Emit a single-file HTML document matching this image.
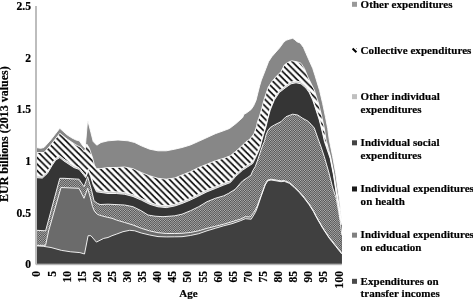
<!DOCTYPE html>
<html><head><meta charset="utf-8"><style>
html,body{margin:0;padding:0;background:#fff;}
body{width:473px;height:300px;overflow:hidden;position:relative;}
svg{position:absolute;left:0;top:0;will-change:transform;}
text{font-family:"Liberation Serif",serif;font-weight:bold;font-size:11px;fill:#000;stroke:#000;stroke-width:0.2px;}
</style></head><body>
<svg width="473" height="300" viewBox="0 0 473 300">
<defs>
<pattern id="stripes" patternUnits="userSpaceOnUse" width="6.5" height="6.5"><rect width="6.5" height="6.5" fill="#fff"/><line x1="-4.50" y1="-1" x2="4.00" y2="7.50" stroke="#000" stroke-width="1.6"/><line x1="2.00" y1="-1" x2="10.50" y2="7.50" stroke="#000" stroke-width="1.6"/><line x1="8.50" y1="-1" x2="17.00" y2="7.50" stroke="#000" stroke-width="1.6"/></pattern>
<pattern id="checker" patternUnits="userSpaceOnUse" width="10" height="10"><rect x="0" y="0" width="1" height="1" fill="#adadad"/><rect x="1" y="0" width="1" height="1" fill="#636363"/><rect x="2" y="0" width="1" height="1" fill="#8b8b8b"/><rect x="3" y="0" width="1" height="1" fill="#575757"/><rect x="4" y="0" width="1" height="1" fill="#b1b1b1"/><rect x="5" y="0" width="1" height="1" fill="#4f4f4f"/><rect x="6" y="0" width="1" height="1" fill="#999999"/><rect x="7" y="0" width="1" height="1" fill="#717171"/><rect x="8" y="0" width="1" height="1" fill="#a5a5a5"/><rect x="9" y="0" width="1" height="1" fill="#4b4b4b"/><rect x="0" y="1" width="1" height="1" fill="#575757"/><rect x="1" y="1" width="1" height="1" fill="#959595"/><rect x="2" y="1" width="1" height="1" fill="#727272"/><rect x="3" y="1" width="1" height="1" fill="#9e9e9e"/><rect x="4" y="1" width="1" height="1" fill="#535353"/><rect x="5" y="1" width="1" height="1" fill="#a5a5a5"/><rect x="6" y="1" width="1" height="1" fill="#676767"/><rect x="7" y="1" width="1" height="1" fill="#8a8a8a"/><rect x="8" y="1" width="1" height="1" fill="#5e5e5e"/><rect x="9" y="1" width="1" height="1" fill="#a9a9a9"/><rect x="0" y="2" width="1" height="1" fill="#919191"/><rect x="1" y="2" width="1" height="1" fill="#717171"/><rect x="2" y="2" width="1" height="1" fill="#868686"/><rect x="3" y="2" width="1" height="1" fill="#6e6e6e"/><rect x="4" y="2" width="1" height="1" fill="#929292"/><rect x="5" y="2" width="1" height="1" fill="#6b6b6b"/><rect x="6" y="2" width="1" height="1" fill="#8b8b8b"/><rect x="7" y="2" width="1" height="1" fill="#767676"/><rect x="8" y="2" width="1" height="1" fill="#8e8e8e"/><rect x="9" y="2" width="1" height="1" fill="#6a6a6a"/><rect x="0" y="3" width="1" height="1" fill="#6b6b6b"/><rect x="1" y="3" width="1" height="1" fill="#8b8b8b"/><rect x="2" y="3" width="1" height="1" fill="#767676"/><rect x="3" y="3" width="1" height="1" fill="#8e8e8e"/><rect x="4" y="3" width="1" height="1" fill="#6a6a6a"/><rect x="5" y="3" width="1" height="1" fill="#919191"/><rect x="6" y="3" width="1" height="1" fill="#717171"/><rect x="7" y="3" width="1" height="1" fill="#868686"/><rect x="8" y="3" width="1" height="1" fill="#6e6e6e"/><rect x="9" y="3" width="1" height="1" fill="#929292"/><rect x="0" y="4" width="1" height="1" fill="#a5a5a5"/><rect x="1" y="4" width="1" height="1" fill="#676767"/><rect x="2" y="4" width="1" height="1" fill="#8a8a8a"/><rect x="3" y="4" width="1" height="1" fill="#5e5e5e"/><rect x="4" y="4" width="1" height="1" fill="#a9a9a9"/><rect x="5" y="4" width="1" height="1" fill="#575757"/><rect x="6" y="4" width="1" height="1" fill="#959595"/><rect x="7" y="4" width="1" height="1" fill="#727272"/><rect x="8" y="4" width="1" height="1" fill="#9e9e9e"/><rect x="9" y="4" width="1" height="1" fill="#535353"/><rect x="0" y="5" width="1" height="1" fill="#4f4f4f"/><rect x="1" y="5" width="1" height="1" fill="#999999"/><rect x="2" y="5" width="1" height="1" fill="#717171"/><rect x="3" y="5" width="1" height="1" fill="#a5a5a5"/><rect x="4" y="5" width="1" height="1" fill="#4b4b4b"/><rect x="5" y="5" width="1" height="1" fill="#adadad"/><rect x="6" y="5" width="1" height="1" fill="#636363"/><rect x="7" y="5" width="1" height="1" fill="#8b8b8b"/><rect x="8" y="5" width="1" height="1" fill="#575757"/><rect x="9" y="5" width="1" height="1" fill="#b1b1b1"/><rect x="0" y="6" width="1" height="1" fill="#a5a5a5"/><rect x="1" y="6" width="1" height="1" fill="#676767"/><rect x="2" y="6" width="1" height="1" fill="#8a8a8a"/><rect x="3" y="6" width="1" height="1" fill="#5e5e5e"/><rect x="4" y="6" width="1" height="1" fill="#a9a9a9"/><rect x="5" y="6" width="1" height="1" fill="#575757"/><rect x="6" y="6" width="1" height="1" fill="#959595"/><rect x="7" y="6" width="1" height="1" fill="#727272"/><rect x="8" y="6" width="1" height="1" fill="#9e9e9e"/><rect x="9" y="6" width="1" height="1" fill="#535353"/><rect x="0" y="7" width="1" height="1" fill="#6b6b6b"/><rect x="1" y="7" width="1" height="1" fill="#8b8b8b"/><rect x="2" y="7" width="1" height="1" fill="#767676"/><rect x="3" y="7" width="1" height="1" fill="#8e8e8e"/><rect x="4" y="7" width="1" height="1" fill="#6a6a6a"/><rect x="5" y="7" width="1" height="1" fill="#919191"/><rect x="6" y="7" width="1" height="1" fill="#717171"/><rect x="7" y="7" width="1" height="1" fill="#868686"/><rect x="8" y="7" width="1" height="1" fill="#6e6e6e"/><rect x="9" y="7" width="1" height="1" fill="#929292"/><rect x="0" y="8" width="1" height="1" fill="#919191"/><rect x="1" y="8" width="1" height="1" fill="#717171"/><rect x="2" y="8" width="1" height="1" fill="#868686"/><rect x="3" y="8" width="1" height="1" fill="#6e6e6e"/><rect x="4" y="8" width="1" height="1" fill="#929292"/><rect x="5" y="8" width="1" height="1" fill="#6b6b6b"/><rect x="6" y="8" width="1" height="1" fill="#8b8b8b"/><rect x="7" y="8" width="1" height="1" fill="#767676"/><rect x="8" y="8" width="1" height="1" fill="#8e8e8e"/><rect x="9" y="8" width="1" height="1" fill="#6a6a6a"/><rect x="0" y="9" width="1" height="1" fill="#575757"/><rect x="1" y="9" width="1" height="1" fill="#959595"/><rect x="2" y="9" width="1" height="1" fill="#727272"/><rect x="3" y="9" width="1" height="1" fill="#9e9e9e"/><rect x="4" y="9" width="1" height="1" fill="#535353"/><rect x="5" y="9" width="1" height="1" fill="#a5a5a5"/><rect x="6" y="9" width="1" height="1" fill="#676767"/><rect x="7" y="9" width="1" height="1" fill="#8a8a8a"/><rect x="8" y="9" width="1" height="1" fill="#5e5e5e"/><rect x="9" y="9" width="1" height="1" fill="#a9a9a9"/></pattern>
</defs>
<polygon points="36.0,147.5 40.7,148.3 44.0,147.5 50.7,140.0 59.8,128.3 67.3,135.0 72.0,138.0 76.0,140.0 79.3,140.8 82.7,145.8 85.2,148.3 87.4,122.0 88.1,121.6 90.9,132.5 93.2,141.5 96.8,145.2 101.0,142.5 108.0,140.8 118.0,140.0 128.0,140.8 134.7,142.5 141.3,145.8 149.7,149.2 158.0,150.8 166.3,150.8 174.7,149.2 182.0,147.5 190.3,145.0 198.7,141.3 207.0,137.5 215.3,133.7 222.0,131.3 229.5,128.5 236.0,123.5 242.7,117.5 244.0,114.2 246.4,113.0 251.2,109.4 253.6,105.8 256.0,100.4 257.8,93.2 259.6,86.0 261.4,80.0 262.8,76.5 266.0,68.3 268.5,61.7 271.8,56.7 277.7,50.0 279.3,48.3 283.5,42.5 286.0,40.3 289.3,39.2 292.7,38.3 295.2,40.0 296.8,41.7 300.2,43.0 303.5,47.5 306.0,53.3 309.3,60.8 312.7,68.3 315.0,75.5 319.6,90.5 322.6,103.3 325.4,116.7 327.7,128.3 329.3,140.0 332.7,156.7 335.7,173.3 338.0,190.0 339.5,200.0 340.7,211.7 341.7,221.7 341.8,221.7 341.8,263.7 36,263.7" fill="#878787"/>
<polygon points="36.0,152.5 44.0,152.5 50.7,145.0 59.8,133.3 67.3,139.2 76.0,145.0 81.0,147.5 84.3,151.7 86.8,144.2 89.3,148.3 92.7,158.3 94.3,165.0 96.5,168.7 100.0,168.7 108.0,167.5 116.3,167.5 124.7,167.0 133.0,168.7 141.3,172.5 149.7,175.8 158.0,178.3 166.3,179.2 174.7,178.0 182.0,175.0 190.3,171.7 198.7,167.5 207.0,164.2 215.3,160.8 223.7,158.3 230.3,155.8 235.3,151.7 242.0,145.8 246.0,141.7 250.0,139.0 254.0,133.7 256.5,126.7 257.5,121.7 259.6,116.0 262.0,107.6 263.8,100.4 266.2,93.2 268.2,87.2 271.8,81.7 276.0,76.7 281.0,71.7 284.3,65.0 287.7,62.5 291.8,60.8 297.7,62.0 301.0,63.3 304.3,68.3 307.7,76.7 314.3,90.0 318.5,103.3 321.8,116.7 324.3,128.3 326.0,140.0 330.5,156.7 333.8,173.3 336.5,190.0 339.0,205.0 341.0,218.0 341.7,222.5 341.8,222.5 341.8,263.7 36,263.7" fill="url(#stripes)"/>
<polygon points="36.0,175.8 42.3,176.3 47.3,171.7 52.3,163.3 55.7,158.3 59.8,155.8 64.0,159.2 69.0,162.5 74.0,165.8 79.0,167.5 83.2,172.5 85.7,175.8 88.2,169.2 90.7,175.0 93.2,183.3 96.5,190.0 108.0,191.7 116.3,191.7 124.7,192.5 133.0,194.7 141.3,198.3 149.7,202.5 158.0,205.0 166.3,205.8 174.7,204.2 182.0,201.7 190.3,198.3 198.7,194.2 207.0,190.0 215.3,186.7 223.7,183.3 230.3,180.8 236.0,174.2 242.7,168.3 247.7,165.0 252.7,161.7 256.0,155.0 260.0,146.0 261.5,140.0 263.5,133.0 266.0,125.0 268.0,116.5 270.2,108.3 274.3,98.3 279.3,90.7 286.0,85.5 291.0,82.0 296.0,81.0 301.0,82.0 306.0,86.3 309.3,91.0 312.7,98.3 316.0,108.3 319.3,118.3 321.0,125.0 322.7,132.0 324.5,140.0 330.2,156.7 333.5,173.3 336.0,190.0 338.5,205.0 340.5,218.0 341.7,223.0 341.8,223.0 341.8,263.7 36,263.7" fill="#c4c4c4"/>
<polygon points="36.0,177.6 42.3,178.1 47.3,173.5 52.3,165.1 55.7,160.1 59.8,157.6 64.0,161.0 69.0,164.3 74.0,167.6 79.0,169.3 83.2,174.3 85.7,177.6 88.2,171.0 90.7,176.8 93.2,185.1 96.5,191.8 108.0,193.5 116.3,193.5 124.7,194.3 133.0,196.5 141.3,200.1 149.7,204.3 158.0,206.8 166.3,207.6 174.7,206.0 182.0,203.5 190.3,200.1 198.7,196.0 207.0,191.8 215.3,188.5 223.7,185.1 230.3,182.6 236.0,176.0 242.7,170.1 247.7,166.8 252.7,163.5 256.0,156.8 260.0,147.8 261.5,141.8 263.5,134.8 266.0,126.8 268.0,118.3 270.2,110.1 274.3,100.1 279.3,92.5 286.0,87.3 291.0,83.8 296.0,82.8 301.0,83.8 306.0,88.1 309.3,92.8 312.7,100.1 316.0,110.1 319.3,120.1 321.0,126.8 322.7,133.8 324.5,141.8 330.2,158.5 333.5,175.1 336.0,191.8 338.5,206.8 340.5,219.8 341.7,224.8 341.8,224.8 341.8,263.7 36,263.7" fill="#353535"/>
<polygon points="36.0,230.3 42.0,230.6 45.6,230.8 59.8,178.3 64.0,178.3 79.0,179.2 84.0,186.7 87.7,176.7 91.5,190.0 94.0,200.8 97.3,203.3 100.0,204.5 108.0,204.2 124.7,205.0 133.0,206.7 141.3,210.8 148.0,215.0 155.0,216.2 163.0,216.7 174.7,215.8 182.0,214.2 190.3,210.8 198.7,206.7 207.0,201.7 215.3,198.3 223.7,195.8 228.7,193.3 235.3,189.2 240.3,183.3 242.7,180.8 247.7,177.5 251.0,175.0 252.7,170.8 255.2,166.7 257.7,160.0 261.0,150.0 263.0,144.5 264.3,141.7 266.0,135.0 267.7,130.8 270.2,127.5 274.3,125.0 281.0,121.7 286.0,116.7 292.7,114.2 297.7,115.0 302.7,118.3 307.7,121.0 311.0,124.2 314.3,128.0 318.5,140.0 321.0,146.7 324.3,156.7 329.0,173.0 332.5,187.0 336.2,198.3 338.7,211.7 340.3,221.7 341.8,235.0 341.8,263.7 36,263.7" fill="url(#checker)"/>
<polygon points="36.0,245.3 45.6,245.3 48.6,231.0 61.0,187.5 79.0,188.3 84.0,198.3 87.7,188.3 90.4,198.0 92.5,206.5 94.6,211.5 97.4,214.4 101.6,215.8 107.4,217.3 112.0,218.3 116.3,220.0 124.7,222.5 133.0,225.0 141.3,228.3 149.7,230.9 158.0,232.7 166.3,233.5 174.7,233.5 182.0,233.3 190.3,232.5 198.7,230.8 207.0,228.3 215.3,226.3 223.7,224.2 232.0,221.7 240.3,219.2 245.3,216.7 250.3,217.0 253.7,212.5 257.0,206.7 261.0,195.9 265.2,184.2 267.7,180.0 271.0,179.2 276.0,180.0 281.0,180.9 284.3,180.5 289.3,182.5 294.3,186.7 299.3,191.7 304.3,197.5 309.3,204.2 313.5,210.9 316.0,215.9 322.7,227.5 329.3,237.5 336.0,245.9 341.8,253.2 341.8,263.7 36,263.7" fill="#6b6b6b"/>
<polygon points="36.0,245.8 43.2,246.3 51.0,247.5 61.5,250.4 70.7,251.8 79.9,252.6 84.5,254.0 88.1,235.7 90.9,235.7 96.4,242.1 103.7,238.4 108.0,237.5 112.0,235.7 116.3,234.2 123.0,231.7 129.7,230.3 134.7,230.8 141.3,233.0 149.7,235.0 158.0,236.6 166.3,236.9 174.7,236.8 182.0,236.7 190.3,235.5 198.7,233.7 207.0,230.8 215.3,228.3 223.7,225.8 232.0,223.7 240.3,220.8 245.3,218.7 251.2,219.2 255.3,212.5 257.0,208.5 261.0,196.7 265.2,185.0 267.7,180.8 271.0,180.0 276.0,180.8 281.0,181.7 284.3,181.3 289.3,183.3 294.3,187.5 299.3,192.5 304.3,198.3 309.3,205.0 313.5,211.7 316.0,216.7 322.7,228.3 329.3,238.3 336.0,246.7 341.8,254.0 341.8,263.7 36,263.7" fill="#404040"/>
<polyline points="36.0,147.5 40.7,148.3 44.0,147.5 50.7,140.0 59.8,128.3 67.3,135.0 72.0,138.0 76.0,140.0 79.3,140.8 82.7,145.8 85.2,148.3 87.4,122.0 88.1,121.6 90.9,132.5 93.2,141.5 96.8,145.2 101.0,142.5 108.0,140.8 118.0,140.0 128.0,140.8 134.7,142.5 141.3,145.8 149.7,149.2 158.0,150.8 166.3,150.8 174.7,149.2 182.0,147.5 190.3,145.0 198.7,141.3 207.0,137.5 215.3,133.7 222.0,131.3 229.5,128.5 236.0,123.5 242.7,117.5 244.0,114.2 246.4,113.0 251.2,109.4 253.6,105.8 256.0,100.4 257.8,93.2 259.6,86.0 261.4,80.0 262.8,76.5 266.0,68.3 268.5,61.7 271.8,56.7 277.7,50.0 279.3,48.3 283.5,42.5 286.0,40.3 289.3,39.2 292.7,38.3 295.2,40.0 296.8,41.7 300.2,43.0 303.5,47.5 306.0,53.3 309.3,60.8 312.7,68.3 315.0,75.5 319.6,90.5 322.6,103.3 325.4,116.7 327.7,128.3 329.3,140.0 332.7,156.7 335.7,173.3 338.0,190.0 339.5,200.0 340.7,211.7 341.7,221.7 341.8,221.7" fill="none" stroke="#fff" stroke-width="0.9" stroke-linejoin="round"/>
<polyline points="36.0,152.5 44.0,152.5 50.7,145.0 59.8,133.3 67.3,139.2 76.0,145.0 81.0,147.5 84.3,151.7 86.8,144.2 89.3,148.3 92.7,158.3 94.3,165.0 96.5,168.7 100.0,168.7 108.0,167.5 116.3,167.5 124.7,167.0 133.0,168.7 141.3,172.5 149.7,175.8 158.0,178.3 166.3,179.2 174.7,178.0 182.0,175.0 190.3,171.7 198.7,167.5 207.0,164.2 215.3,160.8 223.7,158.3 230.3,155.8 235.3,151.7 242.0,145.8 246.0,141.7 250.0,139.0 254.0,133.7 256.5,126.7 257.5,121.7 259.6,116.0 262.0,107.6 263.8,100.4 266.2,93.2 268.2,87.2 271.8,81.7 276.0,76.7 281.0,71.7 284.3,65.0 287.7,62.5 291.8,60.8 297.7,62.0 301.0,63.3 304.3,68.3 307.7,76.7 314.3,90.0 318.5,103.3 321.8,116.7 324.3,128.3 326.0,140.0 330.5,156.7 333.8,173.3 336.5,190.0 339.0,205.0 341.0,218.0 341.7,222.5 341.8,222.5" fill="none" stroke="#fff" stroke-width="0.9" stroke-linejoin="round"/>
<polyline points="36.0,175.8 42.3,176.3 47.3,171.7 52.3,163.3 55.7,158.3 59.8,155.8 64.0,159.2 69.0,162.5 74.0,165.8 79.0,167.5 83.2,172.5 85.7,175.8 88.2,169.2 90.7,175.0 93.2,183.3 96.5,190.0 108.0,191.7 116.3,191.7 124.7,192.5 133.0,194.7 141.3,198.3 149.7,202.5 158.0,205.0 166.3,205.8 174.7,204.2 182.0,201.7 190.3,198.3 198.7,194.2 207.0,190.0 215.3,186.7 223.7,183.3 230.3,180.8 236.0,174.2 242.7,168.3 247.7,165.0 252.7,161.7 256.0,155.0 260.0,146.0 261.5,140.0 263.5,133.0 266.0,125.0 268.0,116.5 270.2,108.3 274.3,98.3 279.3,90.7 286.0,85.5 291.0,82.0 296.0,81.0 301.0,82.0 306.0,86.3 309.3,91.0 312.7,98.3 316.0,108.3 319.3,118.3 321.0,125.0 322.7,132.0 324.5,140.0 330.2,156.7 333.5,173.3 336.0,190.0 338.5,205.0 340.5,218.0 341.7,223.0 341.8,223.0" fill="none" stroke="#fff" stroke-width="0.9" stroke-linejoin="round"/>
<polyline points="36.0,177.6 42.3,178.1 47.3,173.5 52.3,165.1 55.7,160.1 59.8,157.6 64.0,161.0 69.0,164.3 74.0,167.6 79.0,169.3 83.2,174.3 85.7,177.6 88.2,171.0 90.7,176.8 93.2,185.1 96.5,191.8 108.0,193.5 116.3,193.5 124.7,194.3 133.0,196.5 141.3,200.1 149.7,204.3 158.0,206.8 166.3,207.6 174.7,206.0 182.0,203.5 190.3,200.1 198.7,196.0 207.0,191.8 215.3,188.5 223.7,185.1 230.3,182.6 236.0,176.0 242.7,170.1 247.7,166.8 252.7,163.5 256.0,156.8 260.0,147.8 261.5,141.8 263.5,134.8 266.0,126.8 268.0,118.3 270.2,110.1 274.3,100.1 279.3,92.5 286.0,87.3 291.0,83.8 296.0,82.8 301.0,83.8 306.0,88.1 309.3,92.8 312.7,100.1 316.0,110.1 319.3,120.1 321.0,126.8 322.7,133.8 324.5,141.8 330.2,158.5 333.5,175.1 336.0,191.8 338.5,206.8 340.5,219.8 341.7,224.8 341.8,224.8" fill="none" stroke="#fff" stroke-width="0.9" stroke-linejoin="round"/>
<polyline points="36.0,230.3 42.0,230.6 45.6,230.8 59.8,178.3 64.0,178.3 79.0,179.2 84.0,186.7 87.7,176.7 91.5,190.0 94.0,200.8 97.3,203.3 100.0,204.5 108.0,204.2 124.7,205.0 133.0,206.7 141.3,210.8 148.0,215.0 155.0,216.2 163.0,216.7 174.7,215.8 182.0,214.2 190.3,210.8 198.7,206.7 207.0,201.7 215.3,198.3 223.7,195.8 228.7,193.3 235.3,189.2 240.3,183.3 242.7,180.8 247.7,177.5 251.0,175.0 252.7,170.8 255.2,166.7 257.7,160.0 261.0,150.0 263.0,144.5 264.3,141.7 266.0,135.0 267.7,130.8 270.2,127.5 274.3,125.0 281.0,121.7 286.0,116.7 292.7,114.2 297.7,115.0 302.7,118.3 307.7,121.0 311.0,124.2 314.3,128.0 318.5,140.0 321.0,146.7 324.3,156.7 329.0,173.0 332.5,187.0 336.2,198.3 338.7,211.7 340.3,221.7 341.8,235.0" fill="none" stroke="#fff" stroke-width="0.9" stroke-linejoin="round"/>
<polyline points="36.0,245.3 45.6,245.3 48.6,231.0 61.0,187.5 79.0,188.3 84.0,198.3 87.7,188.3 90.4,198.0 92.5,206.5 94.6,211.5 97.4,214.4 101.6,215.8 107.4,217.3 112.0,218.3 116.3,220.0 124.7,222.5 133.0,225.0 141.3,228.3 149.7,230.9 158.0,232.7 166.3,233.5 174.7,233.5 182.0,233.3 190.3,232.5 198.7,230.8 207.0,228.3 215.3,226.3 223.7,224.2 232.0,221.7 240.3,219.2 245.3,216.7 250.3,217.0 253.7,212.5 257.0,206.7 261.0,195.9 265.2,184.2 267.7,180.0 271.0,179.2 276.0,180.0 281.0,180.9 284.3,180.5 289.3,182.5 294.3,186.7 299.3,191.7 304.3,197.5 309.3,204.2 313.5,210.9 316.0,215.9 322.7,227.5 329.3,237.5 336.0,245.9 341.8,253.2" fill="none" stroke="#fff" stroke-width="0.9" stroke-linejoin="round"/>
<polyline points="36.0,245.8 43.2,246.3 51.0,247.5 61.5,250.4 70.7,251.8 79.9,252.6 84.5,254.0 88.1,235.7 90.9,235.7 96.4,242.1 103.7,238.4 108.0,237.5 112.0,235.7 116.3,234.2 123.0,231.7 129.7,230.3 134.7,230.8 141.3,233.0 149.7,235.0 158.0,236.6 166.3,236.9 174.7,236.8 182.0,236.7 190.3,235.5 198.7,233.7 207.0,230.8 215.3,228.3 223.7,225.8 232.0,223.7 240.3,220.8 245.3,218.7 251.2,219.2 255.3,212.5 257.0,208.5 261.0,196.7 265.2,185.0 267.7,180.8 271.0,180.0 276.0,180.8 281.0,181.7 284.3,181.3 289.3,183.3 294.3,187.5 299.3,192.5 304.3,198.3 309.3,205.0 313.5,211.7 316.0,216.7 322.7,228.3 329.3,238.3 336.0,246.7 341.8,254.0" fill="none" stroke="#fff" stroke-width="0.9" stroke-linejoin="round"/>
<rect x="36" y="263.7" width="305.8" height="1.5" fill="#b4b4b4"/>
<rect x="35" y="6" width="2" height="258.5" fill="#bdbdbd"/>
<text x="31" y="10.4" text-anchor="end" style="font-size:11.6px">2.5</text>
<text x="31" y="61.9" text-anchor="end" style="font-size:11.6px">2</text>
<text x="31" y="113.2" text-anchor="end" style="font-size:11.6px">1.5</text>
<text x="31" y="165.2" text-anchor="end" style="font-size:11.6px">1</text>
<text x="31" y="216.9" text-anchor="end" style="font-size:11.6px">0.5</text>
<text x="31" y="267.7" text-anchor="end" style="font-size:11.6px">0</text>
<text transform="translate(40.4,271) rotate(-90)" text-anchor="end" style="font-size:11.6px">0</text>
<text transform="translate(55.5,271) rotate(-90)" text-anchor="end" style="font-size:11.6px">5</text>
<text transform="translate(70.6,271) rotate(-90)" text-anchor="end" style="font-size:11.6px">10</text>
<text transform="translate(85.7,271) rotate(-90)" text-anchor="end" style="font-size:11.6px">15</text>
<text transform="translate(100.8,271) rotate(-90)" text-anchor="end" style="font-size:11.6px">20</text>
<text transform="translate(115.9,271) rotate(-90)" text-anchor="end" style="font-size:11.6px">25</text>
<text transform="translate(131.0,271) rotate(-90)" text-anchor="end" style="font-size:11.6px">30</text>
<text transform="translate(146.1,271) rotate(-90)" text-anchor="end" style="font-size:11.6px">35</text>
<text transform="translate(161.2,271) rotate(-90)" text-anchor="end" style="font-size:11.6px">40</text>
<text transform="translate(176.3,271) rotate(-90)" text-anchor="end" style="font-size:11.6px">45</text>
<text transform="translate(191.4,271) rotate(-90)" text-anchor="end" style="font-size:11.6px">50</text>
<text transform="translate(206.6,271) rotate(-90)" text-anchor="end" style="font-size:11.6px">55</text>
<text transform="translate(221.7,271) rotate(-90)" text-anchor="end" style="font-size:11.6px">60</text>
<text transform="translate(236.8,271) rotate(-90)" text-anchor="end" style="font-size:11.6px">65</text>
<text transform="translate(251.9,271) rotate(-90)" text-anchor="end" style="font-size:11.6px">70</text>
<text transform="translate(267.0,271) rotate(-90)" text-anchor="end" style="font-size:11.6px">75</text>
<text transform="translate(282.1,271) rotate(-90)" text-anchor="end" style="font-size:11.6px">80</text>
<text transform="translate(297.2,271) rotate(-90)" text-anchor="end" style="font-size:11.6px">85</text>
<text transform="translate(312.3,271) rotate(-90)" text-anchor="end" style="font-size:11.6px">90</text>
<text transform="translate(327.4,271) rotate(-90)" text-anchor="end" style="font-size:11.6px">95</text>
<text transform="translate(342.5,271) rotate(-90)" text-anchor="end" style="font-size:11.6px">100</text>
<text x="188.5" y="297.3" text-anchor="middle">Age</text>
<text transform="translate(8,134.2) rotate(-90)" text-anchor="middle" style="font-size:12px">EUR billions (2013 values)</text>
<rect x="352" y="1.8" width="5" height="5" fill="#999999"/>
<text x="360.6" y="7.60" letter-spacing="0.06">Other expenditures</text>
<line x1="352.6" y1="48.57" x2="356.4" y2="52.17" stroke="#000" stroke-width="2.1"/><rect x="356" y="47.97" width="1" height="1" fill="#999"/>
<text x="360.6" y="53.77" letter-spacing="0.06">Collective expenditures</text>
<rect x="352" y="94.14" width="5" height="5" fill="#c0c0c0"/>
<text x="360.6" y="99.94" letter-spacing="0.06">Other individual</text>
<text x="360.6" y="112.59" letter-spacing="0.06">expenditures</text>
<rect x="352" y="140.31" width="5" height="5" fill="#444444"/>
<text x="360.6" y="146.11" letter-spacing="0.06">Individual social</text>
<text x="360.6" y="158.76" letter-spacing="0.06">expenditures</text>
<rect x="352" y="186.48" width="5" height="5" fill="#1a1a1a"/>
<text x="360.6" y="192.28" letter-spacing="0.06">Individual expenditures</text>
<text x="360.6" y="204.93" letter-spacing="0.06">on health</text>
<rect x="352" y="232.65" width="5" height="5" fill="#808080"/>
<text x="360.6" y="238.45" letter-spacing="0.06">Individual expenditures</text>
<text x="360.6" y="251.10" letter-spacing="0.06">on education</text>
<rect x="352" y="278.82" width="5" height="5" fill="#4a4a4a"/>
<text x="360.6" y="284.62" letter-spacing="0.06">Expenditures on</text>
<text x="360.6" y="297.27" letter-spacing="0.06">transfer incomes</text>
</svg>
</body></html>
